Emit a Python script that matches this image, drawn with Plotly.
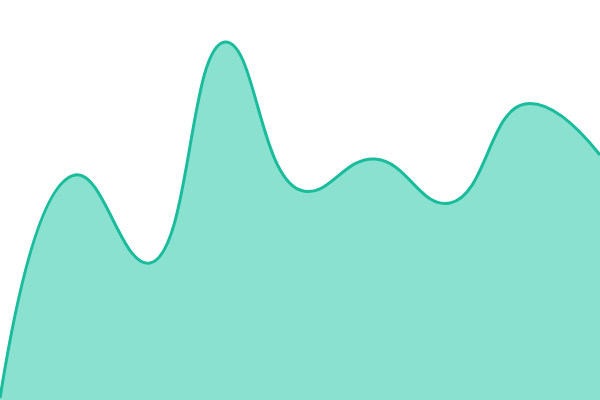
import plotly.graph_objects as go

# evenly spaced points (0 = bottom edge)
x_vals = [0, 1, 2, 3, 4, 5, 6, 7, 8]
y_vals = [2, 225, 137, 358, 210, 241, 197, 296, 245]

fig = go.Figure()
fig.add_trace(go.Scatter(
    x=x_vals, y=y_vals,
    mode='lines',
    line=dict(color='#1abc9c', width=3, shape='spline', smoothing=1.3),
    fill='tozeroy',
    fillcolor='rgba(22,196,162,0.5)',
    hoverinfo='skip',
))

fig.update_layout(
    width=600, height=400,
    margin=dict(l=0, r=0, t=0, b=0),
    paper_bgcolor='white', plot_bgcolor='white',
    showlegend=False,
    xaxis=dict(visible=False, range=[0, 8], fixedrange=True),
    yaxis=dict(visible=False, range=[0, 400], fixedrange=True),
)

# drop the default page margin so the chart sits flush in the window
fig.write_html("out.html", config={'displayModeBar': False},
               post_script="document.body.style.margin='0';document.body.style.overflow='hidden';")
